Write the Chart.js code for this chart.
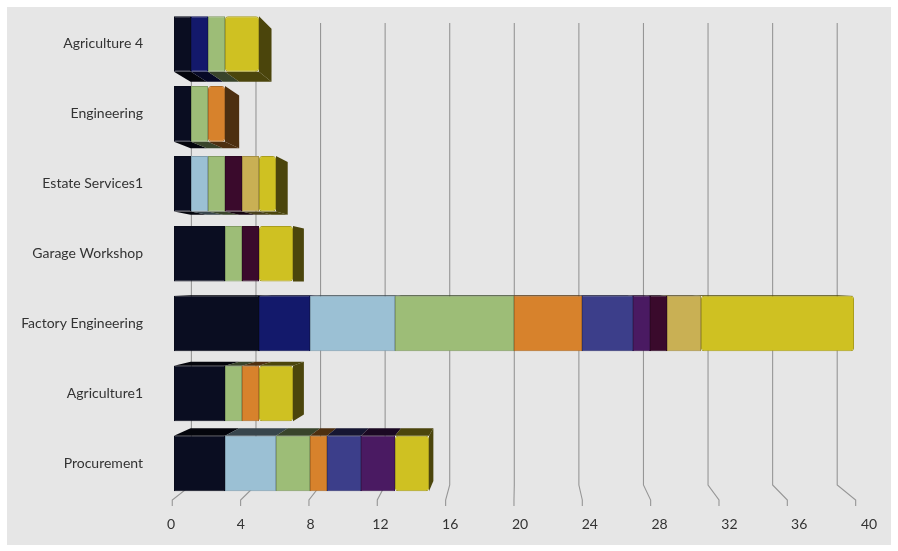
<!DOCTYPE html>
<html>
<head>
<meta charset="utf-8">
<script src="https://cdn.jsdelivr.net/npm/chart.js@4.4.1/dist/chart.umd.min.js"></script>
<style>
  html, body { margin: 0; padding: 0; background: #ffffff; }
  canvas { display: block; }
</style>
</head>
<body>
<canvas id="chart" width="898" height="551"></canvas>
<script>
// Departments, top to bottom
const categories = ['Agriculture 4', 'Engineering', 'Estate Services1', 'Garage Workshop', 'Factory Engineering', 'Agriculture1', 'Procurement'];

// Value axis ticks
const xTicks = [0, 4, 8, 12, 16, 20, 24, 28, 32, 36, 40];

// Stacked series, one value per department
const seriesA = [1, 1, 1, 3, 5, 3, 3];
const seriesB = [1, 0, 0, 0, 3, 0, 0];
const seriesC = [0, 0, 1, 0, 5, 0, 3];
const seriesD = [1, 1, 1, 1, 7, 1, 2];
const seriesE = [0, 1, 0, 0, 4, 1, 1];
const seriesF = [0, 0, 0, 0, 3, 0, 2];
const seriesG = [0, 0, 0, 0, 1, 0, 2];
const seriesH = [0, 0, 1, 1, 1, 0, 0];
const seriesI = [0, 0, 1, 0, 2, 0, 0];
const seriesJ = [2, 0, 1, 2, 9, 2, 2];

const seriesList = [seriesA, seriesB, seriesC, seriesD, seriesE, seriesF, seriesG, seriesH, seriesI, seriesJ];
const seriesColors = ['#0a0d21', '#13196b', '#9bc0d4', '#9dbd77', '#d7822c', '#3c3e8a', '#4a1a62', '#3a0a2c', '#c9b054', '#cfc122'];

function shade(hex, f) {
  const n = parseInt(hex.slice(1), 16);
  const r = Math.round(((n >> 16) & 255) * f);
  const g = Math.round(((n >> 8) & 255) * f);
  const b = Math.round((n & 255) * f);
  return `rgb(${r},${g},${b})`;
}

// Perspective settings for the pseudo-3D look
const VIEW = { vxValue: 20.35, vyFrac: 0.554, barDepth: 0.048, wallDepth: 0.055, floorSpread: 1.005, labelSpread: 1.0265 };

const panelPlugin = {
  id: 'panel',
  beforeDraw(chart) {
    const ctx = chart.ctx;
    ctx.save();
    ctx.fillStyle = '#e6e6e6';
    ctx.fillRect(7, 7, 884, 538);
    ctx.restore();
  }
};

function vanishing(chart) {
  const ca = chart.chartArea;
  return { x: chart.scales.x.getPixelForValue(VIEW.vxValue), y: ca.top + ca.height * VIEW.vyFrac };
}

const depthPlugin = {
  id: 'depth',
  beforeDatasetsDraw(chart) {
    const ctx = chart.ctx;
    const ca = chart.chartArea;
    const xs = chart.scales.x;
    const v = vanishing(chart);

    // back wall grid lines with floor segments
    ctx.save();
    ctx.strokeStyle = '#969696';
    ctx.lineWidth = 1.1;
    const yTop = ca.top + 14, yFloorBack = ca.bottom - 13.4, yFloorFront = ca.bottom + 1.6, yTick = ca.bottom + 7.6;
    xTicks.forEach(t => {
      const px = xs.getPixelForValue(t);
      const xf = v.x + (px - v.x) * VIEW.floorSpread;
      const xb = xf + (v.x - xf) * VIEW.wallDepth;
      ctx.beginPath();
      ctx.moveTo(xf, yTick);
      ctx.lineTo(xf, yFloorFront);
      ctx.lineTo(xb, yFloorBack);
      ctx.lineTo(xb, yTop);
      ctx.stroke();
    });
    ctx.restore();

    // top / bottom / side faces of each stacked segment
    const D = VIEW.barDepth;
    const back = (x, y) => [x + (v.x - x) * D, y + (v.y - y) * D];
    const rightmost = {};
    ctx.save();
    chart.data.datasets.forEach((ds, i) => {
      const meta = chart.getDatasetMeta(i);
      meta.data.forEach((el, j) => {
        if (ds.data[j] == null) return;
        const p = el.getProps(['x', 'y', 'base', 'height'], true);
        const left = Math.min(p.x, p.base), right = Math.max(p.x, p.base);
        const top = p.y - p.height / 2, bottom = p.y + p.height / 2;
        const face = shade(ds.backgroundColor, 0.36);
        const edgeY = bottom < v.y ? bottom : (top > v.y ? top : null);
        if (edgeY !== null) {
          const bl = back(left, edgeY), br = back(right, edgeY);
          ctx.fillStyle = face;
          ctx.beginPath();
          ctx.moveTo(left, edgeY);
          ctx.lineTo(right, edgeY);
          ctx.lineTo(br[0], br[1]);
          ctx.lineTo(bl[0], bl[1]);
          ctx.closePath();
          ctx.fill();
        }
        if (!rightmost[j] || right >= rightmost[j].right) {
          rightmost[j] = { right, top, bottom, face };
        }
      });
    });
    Object.values(rightmost).forEach(r => {
      if (r.right >= v.x) return;
      const bt = back(r.right, r.top), bb = back(r.right, r.bottom);
      ctx.fillStyle = r.face;
      ctx.beginPath();
      ctx.moveTo(r.right, r.top);
      ctx.lineTo(bt[0], bt[1]);
      ctx.lineTo(bb[0], bb[1]);
      ctx.lineTo(r.right, r.bottom);
      ctx.closePath();
      ctx.fill();
    });
    ctx.restore();
  },
  afterDraw(chart) {
    // value labels placed along the front edge of the floor
    const ctx = chart.ctx;
    const ca = chart.chartArea;
    const xs = chart.scales.x;
    ctx.save();
    ctx.fillStyle = '#333333';
    ctx.font = '14px Lato';
    ctx.textAlign = 'center';
    ctx.textBaseline = 'middle';
    xTicks.forEach(t => {
      const px = xs.getPixelForValue(t);
      const cx = ca.left - 3 + (px - ca.left) * VIEW.labelSpread;
      ctx.fillText(String(t), cx, ca.bottom + 25.6);
    });
    ctx.restore();
  }
};

const datasets = seriesList.map((vals, i) => ({
  label: 'Series ' + (i + 1),
  data: vals.map(n => (n === 0 ? null : n)),
  backgroundColor: seriesColors[i],
  borderColor: shade(seriesColors[i], 0.82),
  borderWidth: 1,
  borderSkipped: false,
  borderRadius: 3,
  categoryPercentage: 0.794,
  barPercentage: 1
}));

new Chart(document.getElementById('chart'), {
  type: 'bar',
  data: { labels: categories, datasets },
  options: {
    indexAxis: 'y',
    responsive: false,
    animation: false,
    devicePixelRatio: 1,
    layout: { padding: { left: 0, top: 9, right: 44, bottom: 52.6 } },
    plugins: { legend: { display: false }, tooltip: { enabled: false } },
    scales: {
      x: { stacked: true, min: 0, max: 40, display: false },
      y: {
        stacked: true,
        grid: { display: false, drawTicks: false },
        border: { display: false },
        ticks: { color: '#333333', font: { family: 'Lato', size: 14 }, padding: 31 },
        afterFit(scale) {
          scale.width = 174;
          scale.paddingTop = 0;
          scale.paddingBottom = 0;
        }
      }
    }
  },
  plugins: [panelPlugin, depthPlugin]
});
</script>
</body>
</html>
